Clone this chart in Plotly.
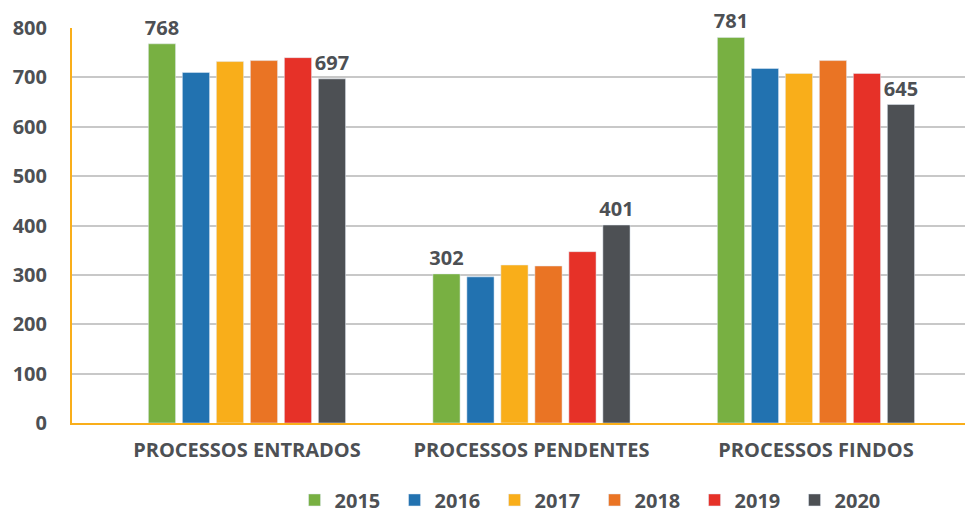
import plotly.graph_objects as go

categories = ["PROCESSOS ENTRADOS", "PROCESSOS PENDENTES", "PROCESSOS FINDOS"]
years = ["2015", "2016", "2017", "2018", "2019", "2020"]
values = {
    "2015": [768, 302, 781],
    "2016": [710, 296, 718],
    "2017": [732, 320, 708],
    "2018": [734, 318, 734],
    "2019": [740, 347, 708],
    "2020": [697, 401, 645],
}
show_labels = {"2015": True, "2020": True}
colors = ["#78b042", "#2272b0", "#f9ae1a", "#ea7424", "#e63128", "#4d5054"]
ytick_vals = [0, 100, 200, 300, 400, 500, 600, 700, 800]

TXT = "#4d5054"
FONT = "Open Sans"

fig = go.Figure()
for y, c in zip(years, colors):
    vals = values[y]
    txt = [str(v) for v in vals] if show_labels.get(y) else None
    fig.add_trace(go.Bar(
        name=y, x=categories, y=vals, marker_color=c,
        text=txt, textposition="outside", cliponaxis=False,
        constraintext="none", textangle=0,
        textfont=dict(family=FONT, size=20, color=TXT, weight="bold"),
    ))

fig.update_layout(
    width=973, height=513,
    margin=dict(l=64, r=8, t=20, b=98, autoexpand=False),
    paper_bgcolor="white", plot_bgcolor="white",
    barmode="group", bargap=0.283, bargroupgap=0.2,
    font=dict(family=FONT, color=TXT, weight="bold"),
    showlegend=True,
    legend=dict(orientation="h", x=0.247, xanchor="left",
                yref="container", y=0.041, yanchor="middle",
                font=dict(family=FONT, size=20, color=TXT, weight="bold"),
                itemwidth=30, entrywidth=55, traceorder="normal"),
)
fig.update_xaxes(
    range=[-0.615, 2.552], showgrid=False, automargin=False,
    showline=True, linecolor="#f9ae1a", linewidth=2,
    tickfont=dict(family=FONT, size=20, color=TXT, weight="bold"),
    ticks="", ticklabelstandoff=8,
)
fig.update_yaxes(
    range=[0, 800], tickvals=ytick_vals, automargin=False,
    showgrid=True, gridcolor="#c8c8c8", gridwidth=1.5,
    showline=True, linecolor="#f9ae1a", linewidth=2,
    zeroline=False,
    tickfont=dict(family=FONT, size=20, color=TXT, weight="bold"),
    ticklabelstandoff=19,
)
fig.write_html("out.html")
